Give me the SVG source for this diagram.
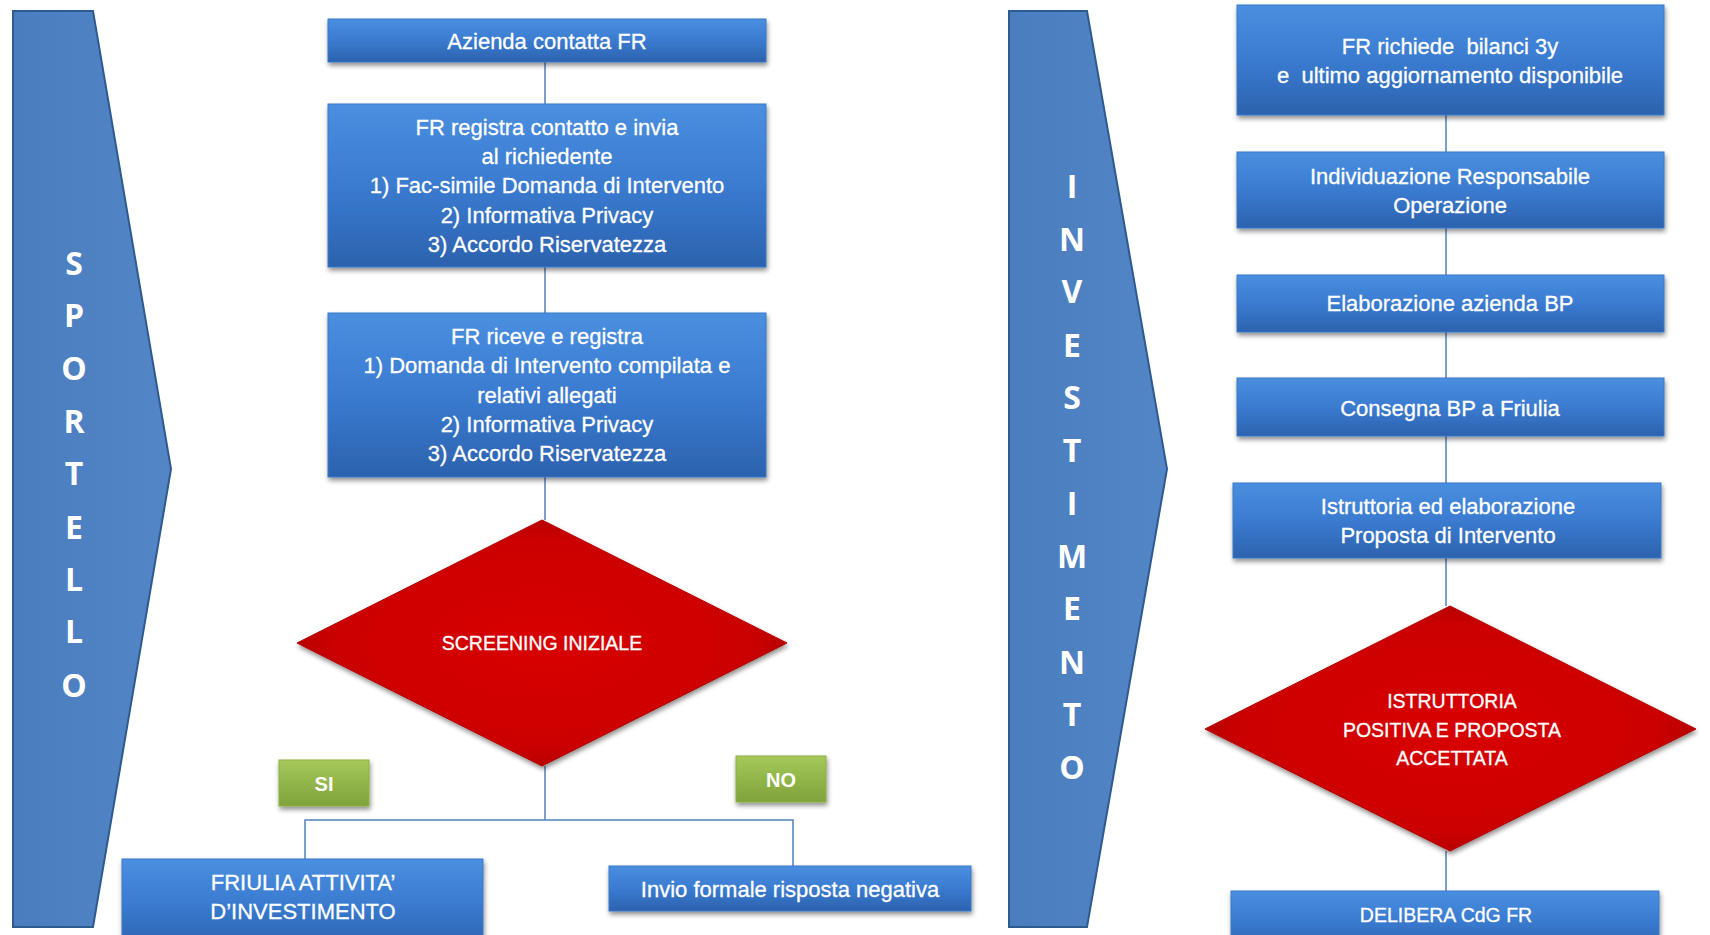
<svg xmlns="http://www.w3.org/2000/svg" width="1710" height="935" viewBox="0 0 1710 935">
<defs>
<linearGradient id="gBox" x1="0" y1="0" x2="0" y2="1">
<stop offset="0" stop-color="#4A8FE0"/>
<stop offset="0.5" stop-color="#3A7BD0"/>
<stop offset="1" stop-color="#2C62AE"/>
</linearGradient>
<linearGradient id="gChev" x1="0" y1="0" x2="1" y2="0">
<stop offset="0" stop-color="#4A7DBE"/>
<stop offset="1" stop-color="#5286C6"/>
</linearGradient>
<radialGradient id="gDia" cx="0.5" cy="0.5" r="0.6">
<stop offset="0" stop-color="#D80000"/>
<stop offset="0.7" stop-color="#CC0000"/>
<stop offset="1" stop-color="#A00000"/>
</radialGradient>
<linearGradient id="gGreen" x1="0" y1="0" x2="0" y2="1">
<stop offset="0" stop-color="#A6C95A"/>
<stop offset="1" stop-color="#7FA23A"/>
</linearGradient>
<filter id="sh" x="-10%" y="-10%" width="125%" height="140%">
<feGaussianBlur in="SourceAlpha" stdDeviation="2.5"/>
<feOffset dx="1" dy="3" result="b"/>
<feComponentTransfer><feFuncA type="linear" slope="0.45"/></feComponentTransfer>
<feMerge><feMergeNode/><feMergeNode in="SourceGraphic"/></feMerge>
</filter>
</defs>
<style>
.box{fill:url(#gBox);stroke:#3A78C8;stroke-width:1;filter:url(#sh)}
.chev{fill:url(#gChev);stroke:#2F5A8E;stroke-width:2}
.dia{fill:url(#gDia);stroke:#B00000;stroke-width:1;filter:url(#sh)}
.grn{fill:url(#gGreen);stroke:#8DB040;stroke-width:1;filter:url(#sh)}
.t{font-family:"Liberation Sans",Arial,sans-serif;font-size:22px;fill:#FFFFFF;stroke:#FFFFFF;stroke-width:0.3;text-anchor:middle;dominant-baseline:central;white-space:pre}
.dt{font-size:19.5px}
.lt{font-family:"Open Sans","Liberation Sans",sans-serif;font-weight:bold;font-size:32px;fill:#FFFFFF;text-anchor:middle;dominant-baseline:central}
.gt{font-family:"Liberation Sans",Arial,sans-serif;font-weight:bold;font-size:20px;fill:#FFFFFF;text-anchor:middle;dominant-baseline:central}
.c{fill:none;stroke:#4F81BD;stroke-width:1.5}
</style>
<rect width="1710" height="935" fill="#FFFFFF"/>

<g id="sportello">
<polygon class="chev" points="13,11 93,11 171,469 93,927 13,927"/>
<text class="lt" x="74" y="262">S</text>
<text class="lt" x="74" y="314">P</text>
<text class="lt" x="74" y="367">O</text>
<text class="lt" x="74" y="420">R</text>
<text class="lt" x="74" y="472">T</text>
<text class="lt" x="74" y="526">E</text>
<text class="lt" x="74" y="578">L</text>
<text class="lt" x="74" y="630">L</text>
<text class="lt" x="74" y="684">O</text>
</g>

<g id="investimento">
<polygon class="chev" points="1009,11 1087,11 1167,469 1087,927 1009,927"/>
<text class="lt" x="1072" y="185">I</text>
<text class="lt" x="1072" y="238">N</text>
<text class="lt" x="1072" y="290">V</text>
<text class="lt" x="1072" y="344">E</text>
<text class="lt" x="1072" y="396">S</text>
<text class="lt" x="1072" y="449">T</text>
<text class="lt" x="1072" y="502">I</text>
<text class="lt" x="1072" y="555">M</text>
<text class="lt" x="1072" y="607">E</text>
<text class="lt" x="1072" y="661">N</text>
<text class="lt" x="1072" y="713">T</text>
<text class="lt" x="1072" y="766">O</text>
</g>

<g id="connectors">
<line class="c" x1="545" y1="62" x2="545" y2="104"/>
<line class="c" x1="545" y1="267" x2="545" y2="313"/>
<line class="c" x1="545" y1="477" x2="545" y2="520"/>
<polyline class="c" points="545,766 545,820"/>
<polyline class="c" points="305,859 305,820 793,820 793,867"/>
<line class="c" x1="1446" y1="115" x2="1446" y2="152"/>
<line class="c" x1="1446" y1="228" x2="1446" y2="275"/>
<line class="c" x1="1446" y1="332" x2="1446" y2="378"/>
<line class="c" x1="1446" y1="436" x2="1446" y2="483"/>
<line class="c" x1="1446" y1="558" x2="1446" y2="606"/>
<line class="c" x1="1446" y1="851" x2="1446" y2="891"/>
</g>

<g id="n1">
<rect class="box" x="328" y="19" width="438" height="43"/>
<text class="t" x="547" y="41">Azienda contatta FR</text>
</g>
<g id="n2">
<rect class="box" x="328" y="104" width="438" height="163"/>
<text class="t" x="547" y="127">FR registra contatto e invia</text>
<text class="t" x="547" y="156">al richiedente</text>
<text class="t" x="547" y="185">1) Fac-simile Domanda di Intervento</text>
<text class="t" x="547" y="215">2) Informativa Privacy</text>
<text class="t" x="547" y="244">3) Accordo Riservatezza</text>
</g>
<g id="n3">
<rect class="box" x="328" y="313" width="438" height="164"/>
<text class="t" x="547" y="336">FR riceve e registra</text>
<text class="t" x="547" y="365">1) Domanda di Intervento compilata e</text>
<text class="t" x="547" y="395">relativi allegati</text>
<text class="t" x="547" y="424">2) Informativa Privacy</text>
<text class="t" x="547" y="453">3) Accordo Riservatezza</text>
</g>
<g id="screening">
<polygon class="dia" points="542,520 787,643 542,766 297,643"/>
<text class="t dt" x="542" y="643">SCREENING INIZIALE</text>
</g>
<g id="si">
<rect class="grn" x="279" y="760" width="90" height="46"/>
<text class="gt" x="324" y="784">SI</text>
</g>
<g id="no">
<rect class="grn" x="736" y="756" width="90" height="46"/>
<text class="gt" x="781" y="780">NO</text>
</g>
<g id="friulia">
<rect class="box" x="122" y="859" width="361" height="90"/>
<text class="t" x="303" y="882">FRIULIA ATTIVITA’</text>
<text class="t" x="303" y="911">D’INVESTIMENTO</text>
</g>
<g id="invio">
<rect class="box" x="609" y="866" width="362" height="45"/>
<text class="t" x="790" y="889">Invio formale risposta negativa</text>
</g>

<g id="r1">
<rect class="box" x="1237" y="5" width="427" height="110"/>
<text class="t" x="1450" y="46">FR richiede  bilanci 3y</text>
<text class="t" x="1450" y="75">e  ultimo aggiornamento disponibile</text>
</g>
<g id="r2">
<rect class="box" x="1237" y="152" width="427" height="76"/>
<text class="t" x="1450" y="176">Individuazione Responsabile</text>
<text class="t" x="1450" y="205">Operazione</text>
</g>
<g id="r3">
<rect class="box" x="1237" y="275" width="427" height="57"/>
<text class="t" x="1450" y="303">Elaborazione azienda BP</text>
</g>
<g id="r4">
<rect class="box" x="1237" y="378" width="427" height="58"/>
<text class="t" x="1450" y="408">Consegna BP a Friulia</text>
</g>
<g id="r5">
<rect class="box" x="1233" y="483" width="428" height="75"/>
<text class="t" x="1448" y="506">Istruttoria ed elaborazione</text>
<text class="t" x="1448" y="535">Proposta di Intervento</text>
</g>
<g id="istruttoria">
<polygon class="dia" points="1450,606 1696,729 1450,851 1205,729"/>
<text class="t dt" x="1452" y="701">ISTRUTTORIA</text>
<text class="t dt" x="1452" y="730">POSITIVA E PROPOSTA</text>
<text class="t dt" x="1452" y="758">ACCETTATA</text>
</g>
<g id="delibera">
<rect class="box" x="1231" y="891" width="428" height="60"/>
<text class="t dt" x="1446" y="915">DELIBERA CdG FR</text>
</g>
</svg>
